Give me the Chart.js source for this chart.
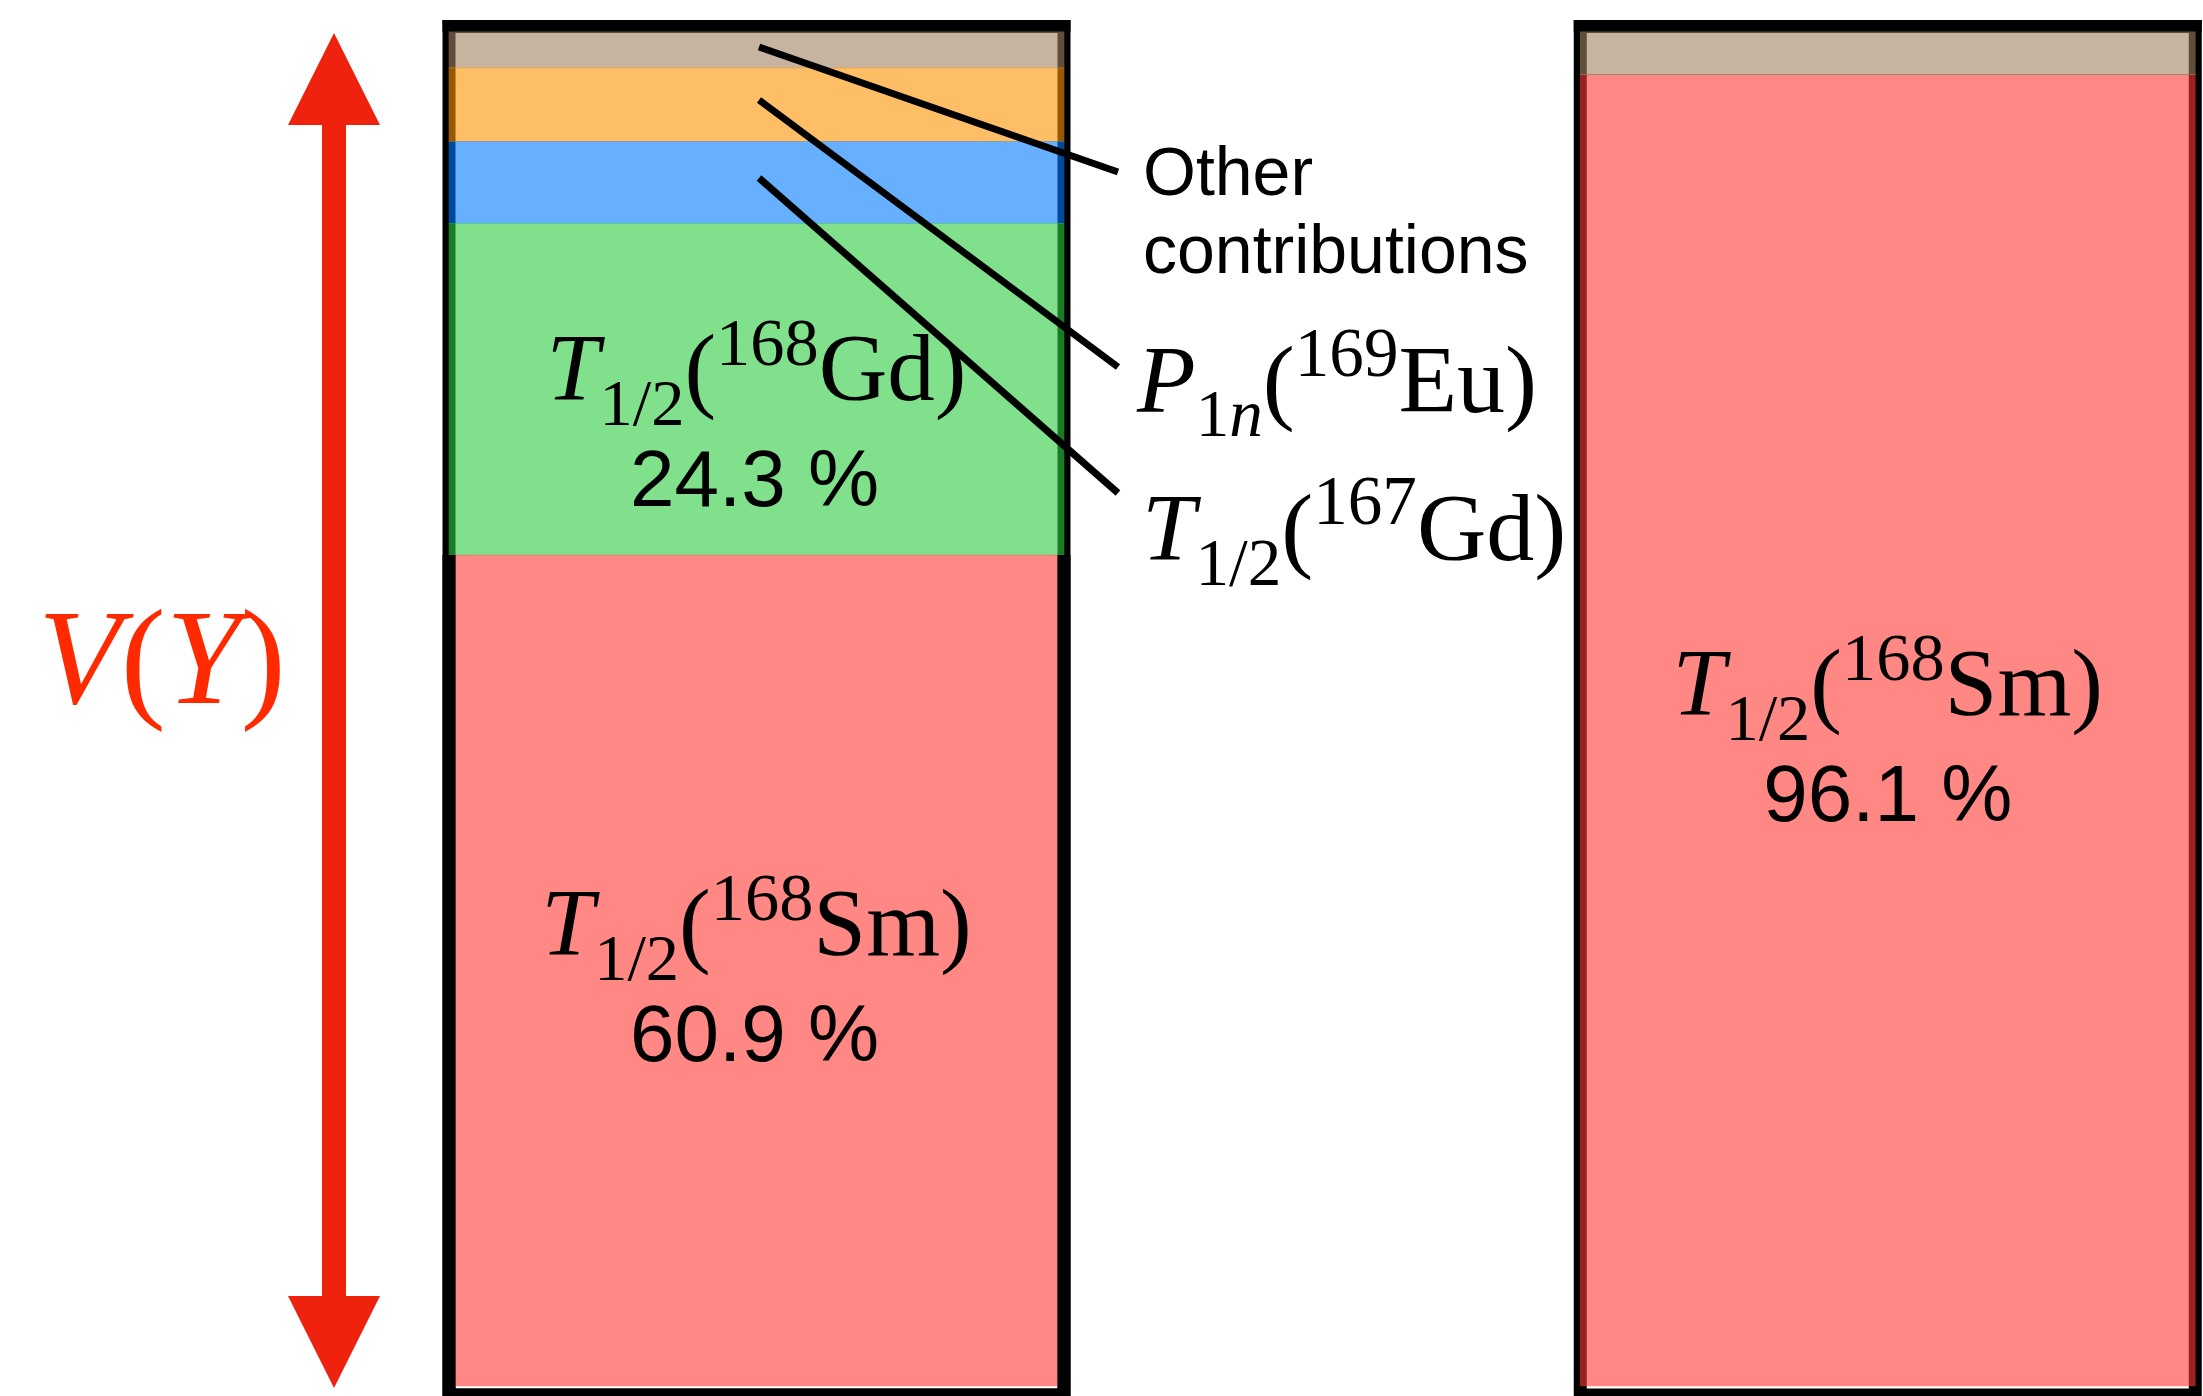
<!DOCTYPE html>
<html>
<head>
<meta charset="utf-8">
<script src="https://cdn.jsdelivr.net/npm/chart.js@4.4.1/dist/chart.umd.min.js"></script>
<style>
  html, body { margin: 0; padding: 0; background: #fff; overflow: hidden; }
  canvas { display: block; }
</style>
</head>
<body>
<canvas id="varChart" width="2203" height="1396"></canvas>
<script>
// two bars, stacked contributions to V(Y), in percent
var categories = ['Case A', 'Case B'];
var sm168 = [60.9, 96.1];   // T1/2(168Sm)
var gd168 = [24.3, 0];      // T1/2(168Gd)
var gd167 = [6.0, 0];       // T1/2(167Gd)
var eu169 = [5.4, 0];       // P1n(169Eu)
var other = [3.4, 3.9];     // other contributions

var SERIF = '"Liberation Serif", "Times New Roman", serif';
var SANS = '"Liberation Sans", Arial, Helvetica, sans-serif';

// draws a formula made of [text, style, scale, shift] pieces
function drawMath(ctx, parts, x, y, size, align) {
    var total = 0;
    var items = parts.map(function (p) {
        var font = (p[1] === 'i' ? 'italic ' : '') + (size * p[2]) + 'px ' + SERIF;
        ctx.font = font;
        var w = ctx.measureText(p[0]).width;
        total += w;
        return { text: p[0], font: font, w: w, dy: p[3] * size };
    });
    var cx = align === 'center' ? x - total / 2 : x;
    ctx.textAlign = 'left';
    ctx.textBaseline = 'alphabetic';
    items.forEach(function (it) {
        ctx.font = it.font;
        ctx.fillText(it.text, cx, y + it.dy);
        cx += it.w;
    });
}

function halfLife(nuc, el) {
    return [['T', 'i', 1, 0], ['1/2', 'r', 0.7, 0.26], ['(', 'r', 1, 0],
            [nuc, 'r', 0.72, -0.37], [el + ')', 'r', 1, 0]];
}

var FRAME_W = 13;

function strokeFrames(chart) {
    var ctx = chart.ctx;
    var y = chart.scales.y;
    var meta = chart.getDatasetMeta(0);
    var top = y.getPixelForValue(100) + 5;
    var bottom = y.getPixelForValue(0) + 9;
    ctx.save();
    ctx.strokeStyle = '#000';
    ctx.lineWidth = FRAME_W;
    meta.data.forEach(function (bar) {
        var left = bar.x - bar.width / 2;
        ctx.strokeRect(left, top, bar.width, bottom - top);
    });
    ctx.restore();
}

var framePlugin = {
    id: 'frames',
    beforeDatasetsDraw: function (chart) {
        strokeFrames(chart);
    },
    afterDatasetsDraw: function (chart) {
        var ctx = chart.ctx;
        var yTop = chart.scales.y.getPixelForValue(100) + 5;
        // top edge of the frames lies over the bars
        ctx.save();
        ctx.beginPath();
        ctx.rect(0, 0, chart.width, yTop + 5);
        ctx.clip();
        strokeFrames(chart);
        ctx.restore();
        // the 168Sm block of the left bar sits under the frame
        var redBar = chart.getDatasetMeta(0).data[0];
        ctx.save();
        ctx.beginPath();
        ctx.rect(0, redBar.y, redBar.x + redBar.width, chart.height - redBar.y);
        ctx.clip();
        strokeFrames(chart);
        ctx.restore();
    }
};

var labelPlugin = {
    id: 'labels',
    afterDraw: function (chart) {
        var ctx = chart.ctx;
        var bars = chart.getDatasetMeta(0).data;
        var xl = bars[0].x, xr = bars[1].x;

        ctx.save();
        ctx.fillStyle = '#000';

        // leader lines
        ctx.lineWidth = 7;
        ctx.strokeStyle = '#000';
        [[759, 47, 1118, 172], [759, 100, 1118, 367], [759, 178, 1118, 493]].forEach(function (l) {
            ctx.beginPath();
            ctx.moveTo(l[0], l[1]);
            ctx.lineTo(l[2], l[3]);
            ctx.stroke();
        });

        // labels inside the bars
        drawMath(ctx, halfLife('168', 'Gd'), xl, 400, 95, 'center');
        drawMath(ctx, halfLife('168', 'Sm'), xl, 955, 95, 'center');
        drawMath(ctx, halfLife('168', 'Sm'), xr, 715, 95, 'center');
        ctx.font = '80px ' + SANS;
        ctx.textAlign = 'center';
        ctx.fillText(gd168[0].toFixed(1) + ' %', xl - 2, 506);
        ctx.fillText(sm168[0].toFixed(1) + ' %', xl - 2, 1061);
        ctx.fillText(sm168[1].toFixed(1) + ' %', xr, 821);

        // labels between the bars
        ctx.font = '68px ' + SANS;
        ctx.textAlign = 'left';
        ctx.fillText('Other', 1143, 195);
        ctx.fillText('contributions', 1143, 273);
        drawMath(ctx, [['P', 'i', 1, 0], ['1', 'r', 0.7, 0.25], ['n', 'i', 0.7, 0.25],
                       ['(', 'r', 1, 0], ['169', 'r', 0.72, -0.38], ['Eu)', 'r', 1, 0]],
                 1137, 412, 96, 'left');
        drawMath(ctx, halfLife('167', 'Gd'), 1142, 560, 96, 'left');

        // double arrow with V(Y)
        ctx.fillStyle = '#ef220e';
        var ax = 334, shaft = 12, head = 46, hl = 92, t = 33, b = 1388;
        ctx.beginPath();
        ctx.moveTo(ax, t);
        ctx.lineTo(ax + head, t + hl);
        ctx.lineTo(ax + shaft, t + hl);
        ctx.lineTo(ax + shaft, b - hl);
        ctx.lineTo(ax + head, b - hl);
        ctx.lineTo(ax, b);
        ctx.lineTo(ax - head, b - hl);
        ctx.lineTo(ax - shaft, b - hl);
        ctx.lineTo(ax - shaft, t + hl);
        ctx.lineTo(ax - head, t + hl);
        ctx.closePath();
        ctx.fill();

        ctx.fillStyle = '#ff2a00';
        drawMath(ctx, [['V', 'i', 1, 0], ['(', 'r', 1, 0], ['Y', 'i', 1, 0], [')', 'r', 1, 0]],
                 162, 703, 135, 'center');
        ctx.restore();
    }
};

function ds(label, data, rgb) {
    return {
        label: label,
        data: data,
        backgroundColor: 'rgba(' + rgb + ',0.6)',
        borderWidth: 0,
        barThickness: 615,
        clip: false
    };
}

new Chart(document.getElementById('varChart'), {
    type: 'bar',
    data: {
        labels: categories,
        datasets: [
            ds('T1/2(168Sm)', sm168, '255,57,50'),
            ds('T1/2(168Gd)', gd168, '43,203,63'),
            ds('T1/2(167Gd)', gd167, '0,123,255'),
            ds('P1n(169Eu)', eu169, '252,147,0'),
            ds('Other contributions', other, '162,130,97')
        ]
    },
    options: {
        responsive: false,
        animation: false,
        devicePixelRatio: 1,
        layout: { padding: { left: 756.5, right: 315.25, top: 21.5, bottom: 10 } },
        plugins: {
            legend: { display: false },
            tooltip: { enabled: false }
        },
        scales: {
            x: { stacked: true, display: false, offset: false },
            y: { stacked: true, display: false, min: 0, max: 100 }
        }
    },
    plugins: [framePlugin, labelPlugin]
});
</script>
</body>
</html>
